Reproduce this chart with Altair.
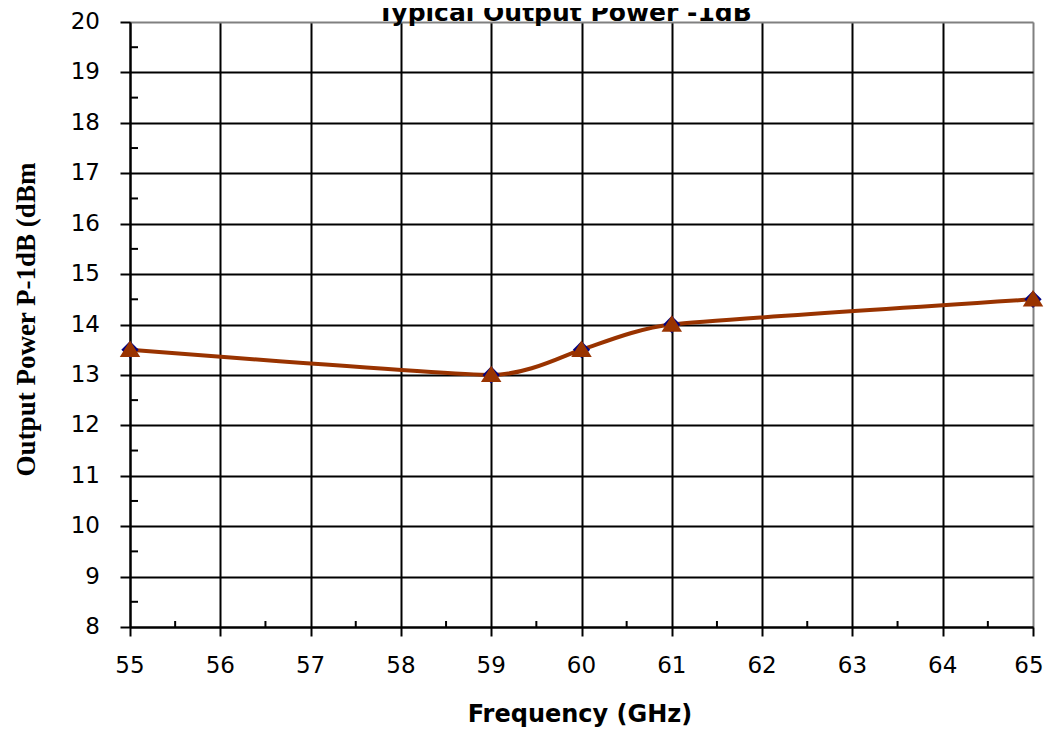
import altair as alt
import pandas as pd

# Data
freq = [55, 59, 60, 61, 65]
power = [13.5, 13.0, 13.5, 14.0, 14.5]

x_ticks = list(range(55, 66))
y_ticks = list(range(8, 21))
x_minor = [55.5 + i for i in range(10)]
y_minor = [8.5 + i for i in range(12)]

title_text = ["Typical Output Power -1dB"]

df = pd.DataFrame({"freq": freq, "power": power})
df_xm = pd.DataFrame({"freq": x_minor})
df_ym = pd.DataFrame({"power": y_minor})
df_xl = pd.DataFrame({"freq": x_ticks, "lab": [str(v) for v in x_ticks]})
df_yl = pd.DataFrame({"power": y_ticks, "lab": [str(v) for v in y_ticks]})
df_title = pd.DataFrame({"t": title_text})

W, H = 903, 605

x_scale = alt.Scale(domain=[55, 65], nice=False, zero=False)
y_scale = alt.Scale(domain=[8, 20], nice=False, zero=False)

x_axis = alt.Axis(
    values=x_ticks, labels=False,
    title="Frequency (GHz)", titleFont="DejaVu Sans", titleFontSize=24,
    titleFontWeight="bold", titleColor="black", titleBaseline="alphabetic",
    titleX=W / 2 - 2, titleY=94, titleAlign="center",
    tickSize=9, tickColor="black", tickWidth=2,
    domainColor="black", domainWidth=2,
    grid=True, gridWidth=2,
    gridColor={"condition": {"test": "datum.value == 65", "value": "#808080"}, "value": "black"},
)

y_axis = alt.Axis(
    values=y_ticks, labels=False,
    title="Output Power P-1dB (dBm", titleFont="Liberation Serif", titleFontSize=27,
    titleFontWeight="bold", titleColor="black", titleAngle=270,
    titleBaseline="alphabetic", titleX=-96, titleY=297, titleAlign="center",
    tickSize=10, tickColor="black", tickWidth=2,
    domainColor="black", domainWidth=2,
    grid=True, gridWidth=2,
    gridColor={"condition": {"test": "datum.value == 20", "value": "#808080"}, "value": "black"},
)

X = alt.X("freq:Q", scale=x_scale, axis=x_axis)
Y = alt.Y("power:Q", scale=y_scale, axis=y_axis)

line = alt.Chart(df).mark_line(
    interpolate="cardinal", tension=0.5, color="#993300", strokeWidth=4
).encode(x=X, y=Y)

diamonds = alt.Chart(df).mark_point(
    shape="diamond", filled=True, color="#000080", size=300, opacity=1
).encode(x=X, y=Y)

triangles = alt.Chart(df).mark_point(
    shape="M0,-0.9L1,0.7L-1,0.7Z", filled=True, color="#993300", size=420, opacity=1
).encode(x=X, y=Y)

x_minor_ticks = alt.Chart(df_xm).mark_rule(color="black", strokeWidth=2).encode(
    x=X, y=alt.value(H), y2=alt.value(H - 6)
)

y_minor_ticks = alt.Chart(df_ym).mark_rule(color="black", strokeWidth=2).encode(
    y=Y, x=alt.value(0), x2=alt.value(8)
)

label_style = dict(font="DejaVu Sans", fontSize=23, color="black")

x_labels = alt.Chart(df_xl).transform_filter("datum.freq < 65").mark_text(
    align="center", baseline="alphabetic", **label_style
).encode(x=X, y=alt.value(H + 46), text="lab:N")

x_label_last = alt.Chart(df_xl).transform_filter("datum.freq == 65").mark_text(
    align="center", baseline="alphabetic", dx=-4, **label_style
).encode(x=X, y=alt.value(H + 46), text="lab:N")

y_labels = alt.Chart(df_yl).mark_text(
    align="right", baseline="middle", **label_style
).encode(y=Y, x=alt.value(-30), text="lab:N")

title = alt.Chart(df_title).mark_text(
    font="DejaVu Sans", fontSize=25, fontWeight="bold", color="black",
    align="center", baseline="alphabetic"
).encode(text="t:N", x=alt.value(W / 2 - 17), y=alt.value(-1))

chart = alt.layer(
    x_minor_ticks, y_minor_ticks, line, diamonds, triangles,
    x_labels, x_label_last, y_labels, title
).properties(
    width=W, height=H,
    autosize=alt.AutoSizeParams(type="none"),
    padding={"left": 122, "top": 14, "right": 11, "bottom": 100},
).configure_view(
    stroke="#808080", strokeWidth=2
).configure(background="white")

chart.save("out.html", embed_options={"renderer": "svg", "actions": False})
